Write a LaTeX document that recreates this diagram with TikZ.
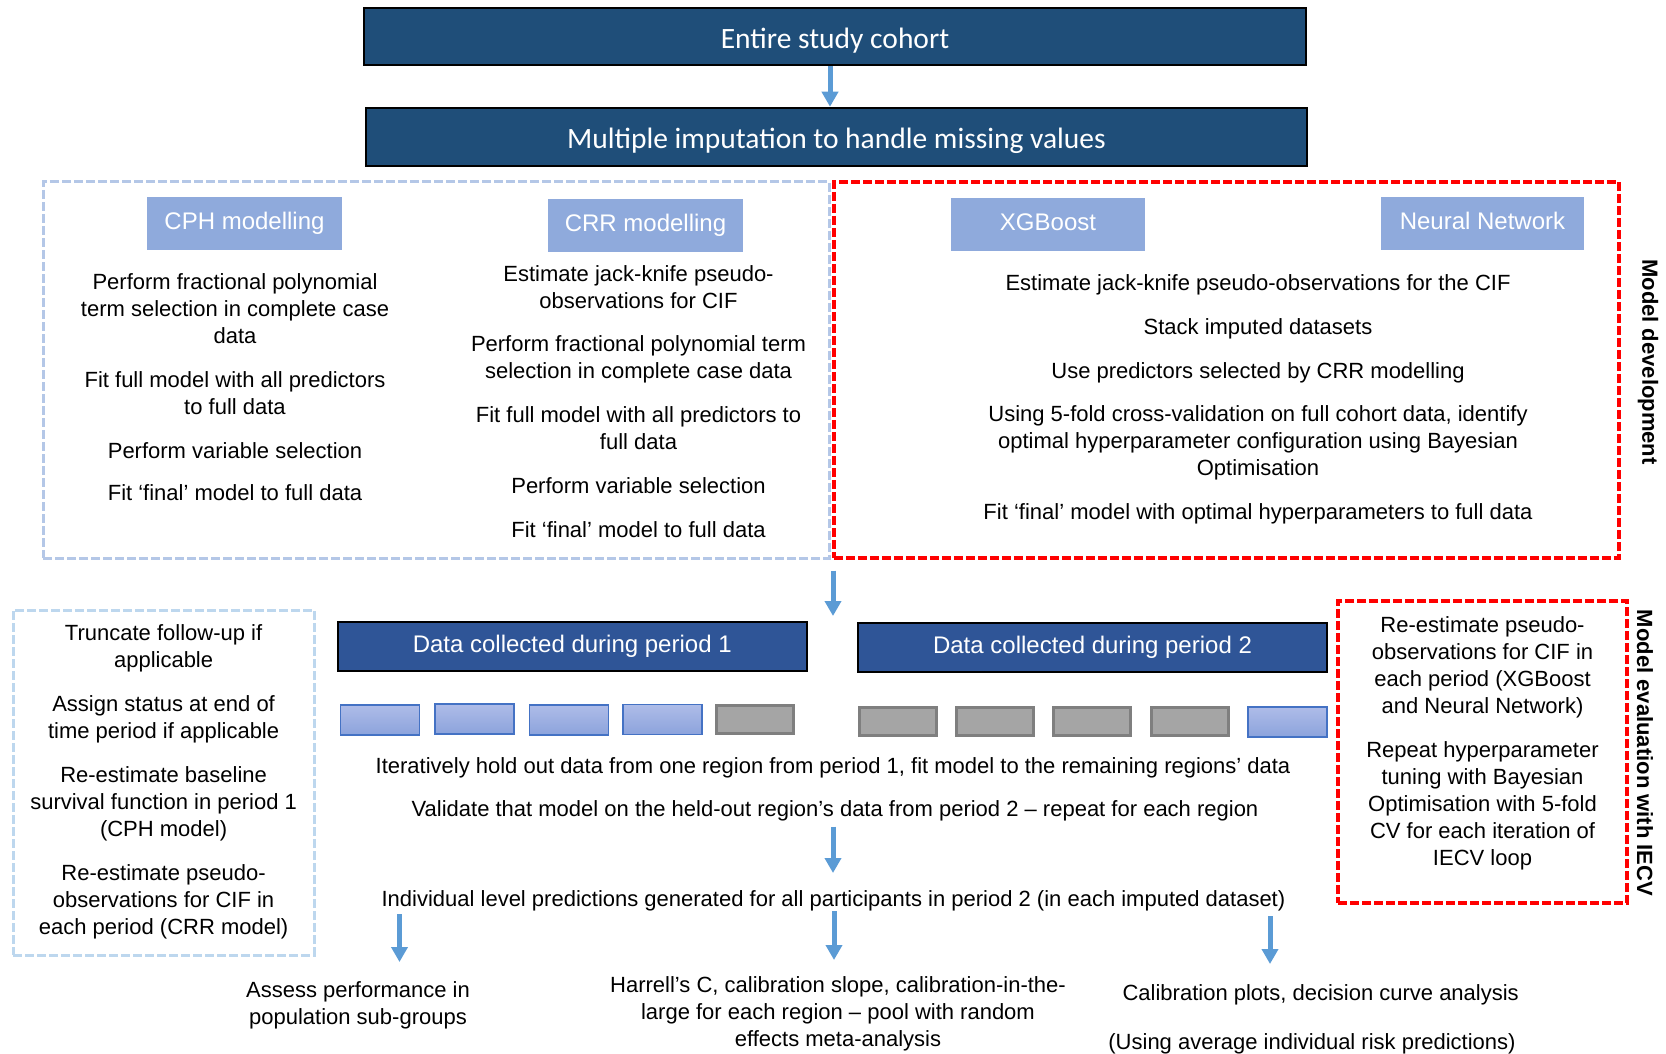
\documentclass[tikz,border=0pt]{standalone}
\usepackage{fontspec}
\setmainfont{Liberation Sans}
\newfontfamily\calfont{Carlito}
\usetikzlibrary{arrows.meta}
\definecolor{navy}{HTML}{1F4E79}
\definecolor{pblue}{HTML}{2F5597}
\definecolor{lab}{HTML}{8FAADC}
\definecolor{arrowc}{HTML}{5B9BD5}
\definecolor{dashblue}{HTML}{B4C7E7}
\definecolor{dashblue2}{HTML}{BDD7EE}
\definecolor{cellborder}{HTML}{4472C4}
\definecolor{cellgreyb}{HTML}{7F7F7F}
\definecolor{cellgrey}{HTML}{A5A5A5}
\definecolor{celltop}{HTML}{AEBCE8}
\definecolor{cellbot}{HTML}{8CA3DC}
\definecolor{redd}{HTML}{FF0000}
\begin{document}
\begin{tikzpicture}[x=1pt,y=-1pt,
  topbox/.style={draw=black, line width=2.5pt, fill=navy, text=white, font=\calfont\fontsize{29.5}{35}\selectfont, inner sep=0pt, text height=26pt, text depth=2.5pt},
  perbox/.style={draw=black, line width=2pt, fill=pblue, text=white, font=\fontsize{24}{29}\selectfont, inner sep=0pt, minimum width=469pt, minimum height=49pt},
  labbox/.style={fill=lab, text=white, font=\fontsize{24}{29}\selectfont, inner sep=0pt, minimum height=53pt, text height=17.5pt, text depth=5pt},
  body/.style={font=\fontsize{22}{27}\selectfont, align=center, inner sep=0pt, yshift=-2.5pt},
  sidelab/.style={font=\bfseries\fontsize{22}{26}\selectfont, rotate=-90, inner sep=0pt},
  bframe/.style={draw=dashblue, line width=3pt, dash pattern=on 9pt off 3pt, inner sep=0pt},
  rframe/.style={draw=redd, line width=3.5pt, dash pattern=on 9pt off 3pt, inner sep=0pt},
  cellb/.style={draw=cellborder, line width=1.5pt, top color=celltop, bottom color=cellbot, minimum width=79pt, minimum height=30pt, inner sep=0pt},
  cellg/.style={draw=cellgreyb, line width=3pt, fill=cellgrey, minimum width=77pt, minimum height=28pt, inner sep=0pt},
  arr/.style={draw=arrowc, line width=5pt, -{Triangle[width=16pt,length=15pt]}}
]
\useasboundingbox (0,0) rectangle (1666,1054);

% top boxes
\node[topbox, minimum width=942pt, minimum height=57pt] (b1) at (835,36.5) {Entire study cohort};
\node[topbox, minimum width=941pt, minimum height=58pt] (b2) at (836.5,137) {Multiple imputation to handle missing values};
\coordinate (ax) at (830,0);
\draw[arr] (b1.south -| ax) -- (b2.north -| ax);

% development frames
\node[bframe, minimum width=786pt, minimum height=376pt] (devL) at (436,370) {};
\node[rframe, minimum width=785pt, minimum height=376pt] (devR) at (1226.25,370) {};
\node[sidelab] (devlab) at (1648,362) {Model development};

\node[labbox, minimum width=195pt] (cph) at (244.5,223.5) {CPH modelling};
\node[labbox, minimum width=195pt] (crr) at (645.5,225) {CRR modelling};
\node[labbox, minimum width=194pt] (xgb) at (1048,224.5) {XGBoost};
\node[labbox, minimum width=203pt] (nn) at (1482.5,223.5) {Neural Network};

% CPH column
\node[body] (cph1) at (235,306.5) {Perform fractional polynomial\\term selection in complete case\\data};
\node[body] (cph2) at (235,390.5) {Fit full model with all predictors\\to full data};
\node[body] (cph3) at (235,448) {Perform variable selection};
\node[body] (cph4) at (235,490.5) {Fit ‘final’ model to full data};

% CRR column
\node[body] (crr1) at (638.5,285) {Estimate jack-knife pseudo-\\observations for CIF};
\node[body] (crr2) at (638.5,357) {Perform fractional polynomial term\\selection in complete case data};
\node[body] (crr3) at (638.5,426) {Fit full model with all predictors to\\full data};
\node[body] (crr4) at (638.5,483.6) {Perform variable selection};
\node[body] (crr5) at (638.5,527) {Fit ‘final’ model to full data};

% ML column
\node[body] (ml1) at (1258,282.6) {Estimate jack-knife pseudo-observations for the CIF};
\node[body] (ml2) at (1258,326) {Stack imputed datasets};
\node[body] (ml3) at (1258,370) {Use predictors selected by CRR modelling};
\node[body] (ml4) at (1258,440) {Using 5-fold cross-validation on full cohort data, identify\\optimal hyperparameter configuration using Bayesian\\Optimisation};
\node[body] (ml5) at (1258,511) {Fit ‘final’ model with optimal hyperparameters to full data};

% arrow to evaluation
\coordinate (a2s) at (833,570.5);
\coordinate (a2e) at (833,616);
\draw[arr] (a2s) -- (a2e);

% evaluation frames
\node[bframe, draw=dashblue2, minimum width=301pt, minimum height=345pt] (evL) at (163.5,782.5) {};
\node[body] (ev1) at (163.6,646) {Truncate follow-up if\\applicable};
\node[body] (ev2) at (163.6,717) {Assign status at end of\\time period if applicable};
\node[body] (ev3) at (163.6,801.5) {Re-estimate baseline\\survival function in period 1\\(CPH model)};
\node[body] (ev4) at (163.6,899) {Re-estimate pseudo-\\observations for CIF in\\each period (CRR model)};

\node[rframe, minimum width=289pt, minimum height=302pt] (evR) at (1482.5,752) {};
\node[body] (er1) at (1482.5,664.5) {Re-estimate pseudo-\\observations for CIF in\\each period (XGBoost\\and Neural Network)};
\node[body] (er2) at (1482.5,803) {Repeat hyperparameter\\tuning with Bayesian\\Optimisation with 5-fold\\CV for each iteration of\\IECV loop};
\node[sidelab] (evlab) at (1645,753) {Model evaluation with IECV};

% periods
\node[perbox] (p1) at (572.25,646.5) {Data collected during period 1};
\node[perbox] (p2) at (1092.5,647.5) {Data collected during period 2};

\node[cellb] (c11) at (380,720) {};
\node[cellb] (c12) at (474.5,719) {};
\node[cellb] (c13) at (569,720) {};
\node[cellb] (c14) at (662.5,719.5) {};
\node[cellg] (c15) at (755,719) {};
\node[cellg] (c21) at (898,721) {};
\node[cellg] (c22) at (995,721) {};
\node[cellg] (c23) at (1092,721) {};
\node[cellg] (c24) at (1190,721) {};
\node[cellb] (c25) at (1287.5,722) {};

\node[body] (it) at (833,765) {Iteratively hold out data from one region from period 1, fit model to the remaining regions’ data};
\node[body] (val) at (835,808.6) {Validate that model on the held-out region’s data from period 2 – repeat for each region};

\coordinate (a3s) at (833,826.6);
\coordinate (a3e) at (833,873);
\draw[arr] (a3s) -- (a3e);

\node[body] (ind) at (833.5,898) {Individual level predictions generated for all participants in period 2 (in each imputed dataset)};

\coordinate (a4s) at (399.5,914);
\coordinate (a4e) at (399.5,962);
\coordinate (a5s) at (834,911);
\coordinate (a5e) at (834,960);
\coordinate (a6s) at (1270,916);
\coordinate (a6e) at (1270,964);
\draw[arr] (a4s) -- (a4e);
\draw[arr] (a5s) -- (a5e);
\draw[arr] (a6s) -- (a6e);

\node[body] (o1) at (358,1003) {Assess performance in\\population sub-groups};
\node[body] (o2) at (838,1011) {Harrell’s C, calibration slope, calibration-in-the-\\large for each region – pool with random\\effects meta-analysis};
\node[body] (o3) at (1320.7,992) {Calibration plots, decision curve analysis};
\node[body] (o4) at (1312,1041) {(Using average individual risk predictions)};
\end{tikzpicture}
\end{document}
